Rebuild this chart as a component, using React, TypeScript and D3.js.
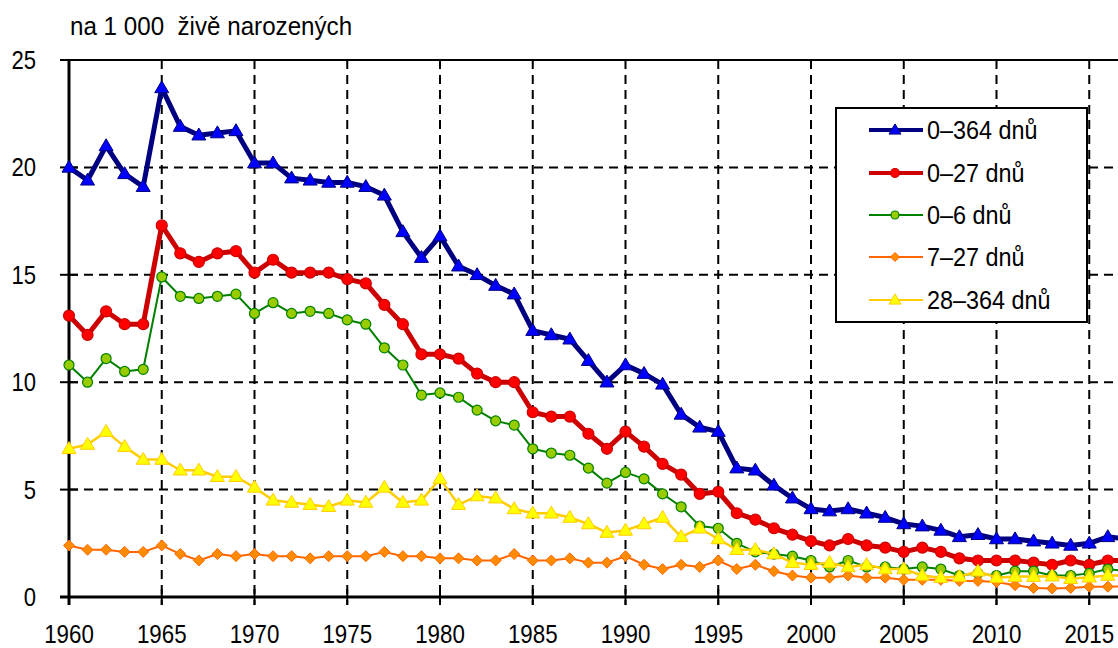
import React, { useEffect } from "react";
import * as d3 from "d3";

const years = d3.range(1960, 2018);

const infant = [
  20.0, 19.4, 21.0, 19.7, 19.1, 23.7, 21.9, 21.5, 21.6, 21.7,
  20.2, 20.2, 19.5, 19.4, 19.3, 19.3, 19.1, 18.7, 17.0, 15.8,
  16.8, 15.4, 15.0, 14.5, 14.1, 12.4, 12.2, 12.0, 11.0, 10.0,
  10.8, 10.4, 9.9, 8.5, 7.9, 7.7, 6.0, 5.9, 5.2, 4.6,
  4.1, 4.0, 4.1, 3.9, 3.7, 3.4, 3.3, 3.1, 2.8, 2.9,
  2.7, 2.7, 2.6, 2.5, 2.4, 2.5, 2.8, 2.7,
];

const neonatal = [
  13.1, 12.2, 13.3, 12.7, 12.7, 17.3, 16.0, 15.6, 16.0, 16.1,
  15.1, 15.7, 15.1, 15.1, 15.1, 14.8, 14.6, 13.6, 12.7, 11.3,
  11.3, 11.1, 10.4, 10.0, 10.0, 8.6, 8.4, 8.4, 7.6, 6.9,
  7.7, 7.0, 6.2, 5.7, 4.8, 4.9, 3.9, 3.6, 3.2, 2.9,
  2.6, 2.4, 2.7, 2.4, 2.3, 2.1, 2.3, 2.1, 1.8, 1.7,
  1.7, 1.7, 1.6, 1.5, 1.7, 1.5, 1.7, 1.7,
];

const earlyNeonatal = [
  10.8, 10.0, 11.1, 10.5, 10.6, 14.9, 14.0, 13.9, 14.0, 14.1,
  13.2, 13.7, 13.2, 13.3, 13.2, 12.9, 12.7, 11.6, 10.8, 9.4,
  9.5, 9.3, 8.7, 8.2, 8.0, 6.9, 6.7, 6.6, 6.0, 5.3,
  5.8, 5.5, 4.8, 4.2, 3.3, 3.2, 2.5, 2.1, 2.0, 1.9,
  1.7, 1.4, 1.7, 1.4, 1.4, 1.3, 1.4, 1.3, 1.0, 1.1,
  1.0, 1.2, 1.2, 1.0, 1.0, 1.1, 1.3, 1.2,
];

const lateNeonatal = [
  2.4, 2.2, 2.2, 2.1, 2.1, 2.4, 2.0, 1.7, 2.0, 1.9,
  2.0, 1.9, 1.9, 1.8, 1.9, 1.9, 1.9, 2.1, 1.9, 1.9,
  1.8, 1.8, 1.7, 1.7, 2.0, 1.7, 1.7, 1.8, 1.6, 1.6,
  1.9, 1.5, 1.3, 1.5, 1.4, 1.7, 1.3, 1.5, 1.2, 1.0,
  0.9, 0.9, 1.0, 0.9, 0.9, 0.8, 0.8, 0.8, 0.75, 0.75,
  0.7, 0.55, 0.42, 0.4, 0.42, 0.48, 0.48, 0.5,
];

const postNeonatal = [
  6.9, 7.1, 7.7, 7.0, 6.4, 6.4, 5.9, 5.9, 5.6, 5.6,
  5.1, 4.5, 4.4, 4.3, 4.2, 4.5, 4.4, 5.1, 4.4, 4.5,
  5.5, 4.3, 4.7, 4.6, 4.1, 3.9, 3.9, 3.7, 3.4, 3.0,
  3.1, 3.4, 3.7, 2.8, 3.2, 2.7, 2.2, 2.2, 2.0, 1.6,
  1.5, 1.6, 1.4, 1.5, 1.3, 1.3, 1.0, 0.9, 0.95, 1.2,
  0.9, 0.95, 0.95, 0.97, 0.85, 0.92, 1.0, 1.0,
];

const yTicks = [0, 5, 10, 15, 20, 25];
const xTicks = [1960, 1965, 1970, 1975, 1980, 1985, 1990, 1995, 2000, 2005, 2010, 2015];

const series = [
  { name: "0–364 dnů", values: infant, line: "#000080", fill: "#0000ff", width: 5, marker: "triangle", size: 14 },
  { name: "0–27 dnů", values: neonatal, line: "#cc0000", fill: "#ff0000", width: 5, marker: "circle", size: 12 },
  { name: "0–6 dnů", values: earlyNeonatal, line: "#008000", fill: "#99cc00", width: 2, marker: "circle", size: 11 },
  { name: "7–27 dnů", values: lateNeonatal, line: "#ff6600", fill: "#ff8c00", width: 2, marker: "diamond", size: 11 },
  { name: "28–364 dnů", values: postNeonatal, line: "#ffcc00", fill: "#ffff00", width: 2.5, marker: "triangle", size: 14 },
];

const W = 1118;
const H = 648;
const left = 69;
const top = 60;
const bottom = 597;

const x = d3.scaleLinear().domain([1960, 2017]).range([left, left + 57 * 18.55]);
const y = d3.scaleLinear().domain([0, 25]).range([bottom, top]);

const font = "'Liberation Sans', Arial, sans-serif";

// condensed-looking text: squeeze the glyphs horizontally
const NText = ({ x, y, sx = 0.85, size, anchor = "start", children }) => (
  <text
    transform={`translate(${x},${y}) scale(${sx},1)`}
    fontSize={size}
    textAnchor={anchor}
    fill="#000"
    style={{ whiteSpace: "pre" }}
  >
    {children}
  </text>
);

const Marker = ({ kind, cx, cy, size, fill, stroke }) => {
  const s = size / 2;
  if (kind === "circle") {
    return <circle cx={cx} cy={cy} r={s - 0.5} fill={fill} stroke={stroke} strokeWidth={1.2} />;
  }
  if (kind === "diamond") {
    const pts = [[cx, cy - s], [cx + s, cy], [cx, cy + s], [cx - s, cy]];
    return <polygon points={pts.map((p) => p.join(",")).join(" ")} fill={fill} stroke={stroke} strokeWidth={1} />;
  }
  const h = size * 0.85;
  const pts = [[cx, cy - h * 0.6], [cx + s, cy + h * 0.4], [cx - s, cy + h * 0.4]];
  return <polygon points={pts.map((p) => p.join(",")).join(" ")} fill={fill} stroke={stroke} strokeWidth={1} />;
};

const App = () => {
  useEffect(() => {
    document.body.style.margin = "0";
  }, []);

  const line = d3
    .line<number>()
    .x((d, i) => x(years[i]))
    .y((d) => y(d));

  const legendX = 836;
  const legendY = 108;
  const rowY = [130, 173, 215, 257, 300];

  return (
    <svg width={W} height={H} style={{ display: "block", background: "#fff" }} fontFamily={font}>
      <NText x={70} y={35} size={26} sx={0.93}>{"na 1 000  živě narozených"}</NText>

      {/* grid */}
      {yTicks.filter((t) => t > 0 && t < 25).map((t) => (
        <line key={"gy" + t} x1={left} x2={W} y1={y(t)} y2={y(t)} stroke="#000" strokeWidth={2} strokeDasharray="9,6" />
      ))}
      {xTicks.filter((t) => t > 1960).map((t) => (
        <line key={"gx" + t} x1={x(t)} x2={x(t)} y1={top} y2={bottom + 8} stroke="#000" strokeWidth={2} strokeDasharray="9,6" />
      ))}

      {/* frame and axes */}
      <line x1={left - 9} x2={W} y1={top} y2={top} stroke="#000" strokeWidth={2} />
      <line x1={left - 9} x2={W} y1={bottom} y2={bottom} stroke="#000" strokeWidth={3} />
      <line x1={left} x2={left} y1={top} y2={bottom + 8} stroke="#000" strokeWidth={3} />
      {yTicks.map((t) => (
        <g key={"yt" + t}>
          <line x1={left - 9} x2={left + 9} y1={y(t)} y2={y(t)} stroke="#000" strokeWidth={2} />
          <NText x={36} y={y(t) + 9} size={26} anchor="end">{t}</NText>
        </g>
      ))}
      {xTicks.map((t) => (
        <g key={"xt" + t}>
          <line x1={x(t)} x2={x(t)} y1={bottom - 8} y2={bottom + 8} stroke="#000" strokeWidth={2} />
          <NText x={x(t)} y={643} size={26} sx={0.86} anchor="middle">{t}</NText>
        </g>
      ))}

      {/* series */}
      {series.map((s) => (
        <g key={s.name}>
          <path d={line(s.values) || ""} fill="none" stroke={s.line} strokeWidth={s.width} strokeLinejoin="round" />
          {s.values.map((v, i) => (
            <Marker key={i} kind={s.marker} cx={x(years[i])} cy={y(v)} size={s.size} fill={s.fill} stroke={s.line} />
          ))}
        </g>
      ))}

      {/* legend */}
      <rect x={legendX} y={legendY} width={251} height={214} fill="#fff" stroke="#000" strokeWidth={2} />
      {series.map((s, i) => (
        <g key={"lg" + i}>
          <line x1={869} x2={923} y1={rowY[i]} y2={rowY[i]} stroke={s.line} strokeWidth={s.width > 3 ? 4 : 2} />
          <Marker kind={s.marker} cx={895} cy={rowY[i]} size={s.size - 2} fill={s.fill} stroke={s.line} />
          <NText x={927} y={rowY[i] + 9} size={26} sx={0.9}>{s.name}</NText>
        </g>
      ))}
    </svg>
  );
};

export default App;
